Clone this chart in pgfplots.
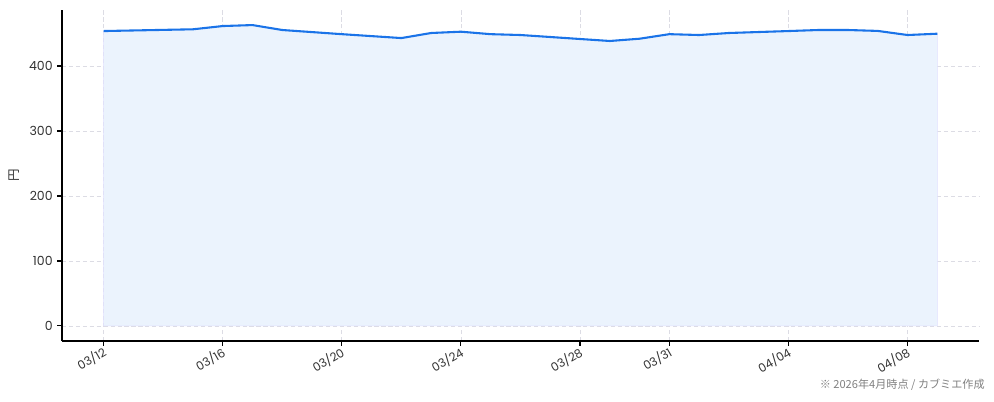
\documentclass[border=0pt]{standalone}
\usepackage{fontspec}
\setmainfont{Poppins}
\newfontfamily\jp{Noto Sans CJK JP}
\usepackage{pgfplots}
\usepackage{pgfplotstable}
\pgfplotsset{compat=1.18}

\definecolor{lineblue}{HTML}{1A73E8}
\definecolor{fillblue}{HTML}{EBF3FD}
\definecolor{gridgray}{HTML}{DCDCE4}
\definecolor{txt}{HTML}{333333}

% day index from 03/12, price in yen
\pgfplotstableread{
d  v
0  453.8
3  456.5
4  461.5
5  463.0
6  455.4
8  449.0
10 443.0
11 450.8
12 452.8
13 449.0
14 447.7
17 438.5
18 442.0
19 449.0
20 447.7
21 450.8
23 453.8
24 455.4
25 455.4
26 454.0
27 447.7
28 449.7
}\price

\begin{document}
\begin{tikzpicture}
\begin{axis}[
  name=ax,
  scale only axis,
  width=660.2pt, height=238.3pt,
  xmin=-1.4, xmax=29.4,
  ymin=-23.2, ymax=486.2,
  axis x line*=bottom, axis y line*=left,
  axis line style={black, line width=0.8pt},
  xtick={0,4,8,12,16,19,23,27},
  xticklabels={03/12,03/16,03/20,03/24,03/28,03/31,04/04,04/08},
  ytick={0,100,200,300,400},
  tick align=outside,
  major tick length=3.5pt,
  tick style={black, line width=0.8pt},
  xmajorgrids, ymajorgrids,
  grid style={gridgray, dash pattern=on 3pt off 2pt, line width=0.6pt},
  /pgf/number format/assume math mode=true,
  yticklabel style={font=\fontsize{9}{10}\selectfont, text=txt, inner sep=3pt},
  xticklabel style={font=\fontsize{8.5}{10}\selectfont, text=txt,
    rotate=30, anchor=north east, inner sep=1pt, yshift=2pt},
  ylabel={\jp 円},
  ylabel style={font=\fontsize{9}{10}\selectfont, text=txt},
  clip=false,
]
\addplot[fill=fillblue, draw=blue!12, line width=0.4pt] table[x=d, y=v] {\price} \closedcycle;
\addplot[lineblue, line width=1.5pt, line join=round] table[x=d, y=v] {\price};
\end{axis}
\node[anchor=base east, inner sep=0pt, text=gray, font=\jp\fontsize{8}{9}\selectfont]
  at ([shift={(4.3pt,-34pt)}]ax.south east) {※ 2026年4月時点 / カブミエ作成};
\pgfresetboundingbox
\useasboundingbox ([shift={(-44.6pt,-43.2pt)}]ax.south west) rectangle ([shift={(10.8pt,7.2pt)}]ax.north east);
\end{tikzpicture}
\end{document}
